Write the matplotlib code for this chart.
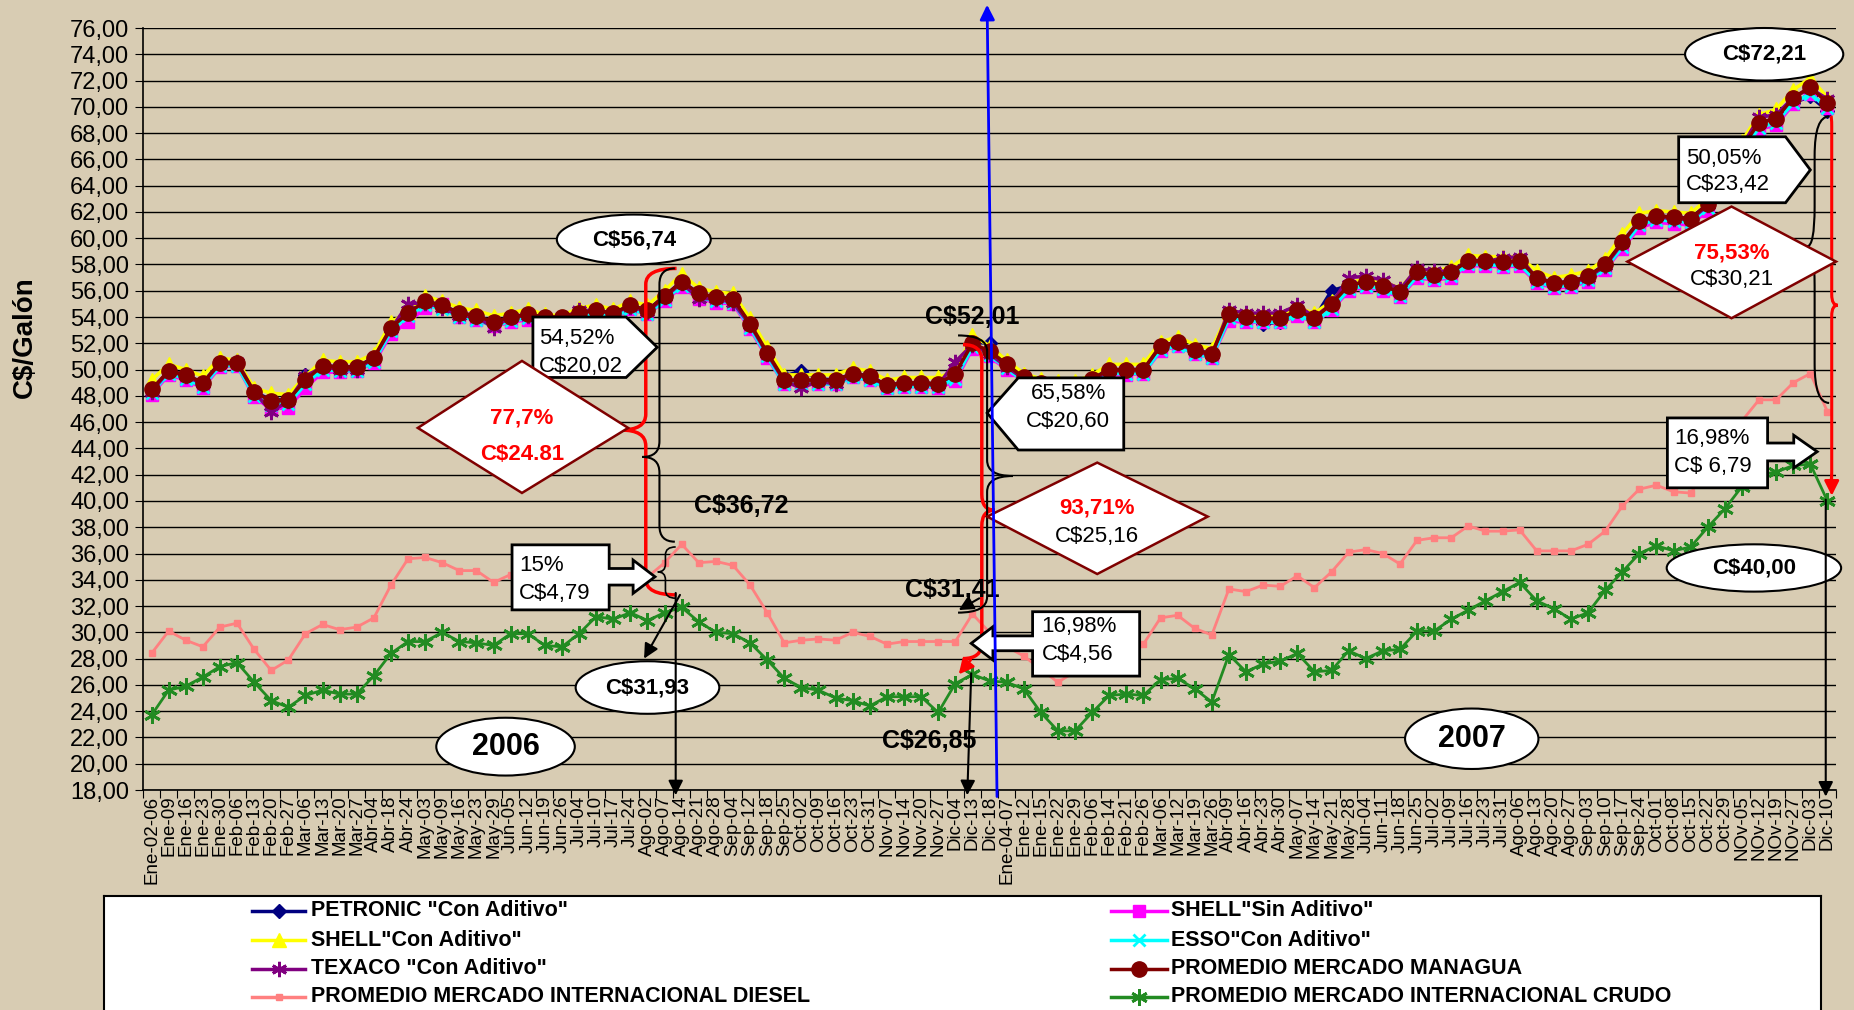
import numpy as np
import matplotlib.pyplot as plt
from matplotlib.patches import Ellipse, Polygon, PathPatch
from matplotlib.path import Path
from matplotlib.lines import Line2D

plt.rcParams['font.family'] = ['Liberation Sans', 'DejaVu Sans']
plt.rcParams['text.parse_math'] = False

# semanas (eje x)
fechas = ['Ene-02-06', 'Ene-09', 'Ene-16', 'Ene-23', 'Ene-30', 'Feb-06', 'Feb-13', 'Feb-20', 'Feb-27', 'Mar-06',
          'Mar-13', 'Mar-20', 'Mar-27', 'Abr-04', 'Abr-18', 'Abr-24', 'May-03', 'May-09', 'May-16', 'May-23',
          'May-29', 'Jun-05', 'Jun-12', 'Jun-19', 'Jun-26', 'Jul-04', 'Jul-10', 'Jul-17', 'Jul-24', 'Ago-02',
          'Ago-07', 'Ago-14', 'Ago-21', 'Ago-28', 'Sep-04', 'Sep-12', 'Sep-18', 'Sep-25', 'Oct-02', 'Oct-09',
          'Oct-16', 'Oct-23', 'Oct-31', 'Nov-07', 'Nov-14', 'Nov-20', 'Nov-27', 'Dic-04', 'Dic-13', 'Dic-18',
          'Ene-04-07', 'Ene-12', 'Ene-15', 'Ene-22', 'Ene-29', 'Feb-06', 'Feb-14', 'Feb-21', 'Feb-26', 'Mar-06',
          'Mar-12', 'Mar-19', 'Mar-26', 'Abr-09', 'Abr-16', 'Abr-23', 'Abr-30', 'May-07', 'May-14', 'May-21',
          'May-28', 'Jun-04', 'Jun-11', 'Jun-18', 'Jun-25', 'Jul-02', 'Jul-09', 'Jul-16', 'Jul-23', 'Jul-31',
          'Ago-06', 'Ago-13', 'Ago-20', 'Ago-27', 'Sep-03', 'Sep-10', 'Sep-17', 'Sep-24', 'Oct-01', 'Oct-08',
          'Oct-15', 'Oct-22', 'Oct-29', 'NOv-05', 'NOv-12', 'NOv-19', 'NOv-27', 'Dic-03', 'Dic-10']

petronic = [48.4, 49.9, 49.6, 49.0, 50.5, 50.6, 48.3, 47.7, 47.7, 49.6,
            50.3, 50.2, 50.2, 50.9, 53.1, 54.3, 55.2, 54.9, 54.3, 54.1,
            53.6, 54.0, 54.2, 54.0, 54.0, 54.3, 54.5, 54.3, 54.9, 54.5,
            55.6, 56.7, 55.8, 55.5, 55.4, 53.5, 51.4, 49.5, 49.9, 49.3,
            49.2, 49.7, 49.5, 48.8, 49.0, 49.0, 48.9, 49.6, 52.1, 52.0,
            50.5, 49.4, 49.0, 48.8, 48.8, 49.3, 50.0, 50.0, 50.0, 51.8,
            52.1, 51.5, 51.2, 54.2, 54.0, 53.5, 53.6, 54.6, 53.9, 56.0,
            56.4, 56.7, 56.4, 55.9, 57.4, 57.0, 57.2, 58.3, 58.0, 58.0,
            58.3, 57.0, 56.6, 56.7, 57.1, 58.0, 59.6, 61.3, 61.7, 61.6,
            61.5, 62.6, 64.6, 66.9, 68.8, 69.1, 70.3, 70.8, 69.7]

shell_sin = [48.1, 49.6, 49.2, 48.6, 50.2, 50.3, 47.9, 47.0, 47.1, 48.6,
             49.8, 49.8, 49.9, 50.5, 52.7, 53.6, 54.7, 55.0, 54.0, 53.8,
             53.3, 53.6, 53.8, 53.7, 53.7, 54.0, 54.2, 53.9, 54.6, 54.2,
             55.2, 56.3, 55.4, 55.1, 55.0, 53.1, 50.9, 48.9, 48.9, 48.9,
             48.9, 49.4, 49.2, 48.6, 48.7, 48.7, 48.6, 49.1, 51.6, 51.0,
             50.0, 49.1, 48.7, 48.5, 48.5, 49.0, 49.6, 49.6, 49.7, 51.4,
             51.8, 51.2, 50.9, 53.7, 53.6, 53.6, 53.6, 54.1, 53.6, 54.5,
             56.0, 56.3, 56.0, 55.5, 57.0, 56.8, 57.0, 57.9, 57.9, 57.8,
             57.9, 56.6, 56.2, 56.3, 56.7, 57.6, 59.2, 60.8, 61.2, 61.1,
             61.0, 62.1, 64.1, 66.4, 68.3, 68.6, 70.2, 71.0, 69.9]

shell_con = [49.2, 50.4, 50.0, 49.5, 50.9, 50.7, 48.6, 48.2, 48.1, 49.5,
             50.7, 50.6, 50.6, 51.2, 53.6, 54.4, 55.6, 55.2, 54.7, 54.5,
             54.1, 54.3, 54.6, 54.2, 54.1, 54.7, 54.9, 54.6, 55.2, 54.9,
             56.0, 57.3, 56.2, 55.9, 55.8, 53.9, 51.7, 49.6, 49.6, 49.6,
             49.6, 50.1, 49.9, 49.2, 49.4, 49.4, 49.4, 49.9, 52.6, 51.8,
             50.7, 49.7, 49.3, 49.1, 49.1, 49.6, 50.4, 50.4, 50.4, 52.1,
             52.5, 51.9, 51.6, 54.4, 54.2, 54.2, 54.1, 54.7, 54.3, 55.2,
             56.6, 56.9, 56.7, 56.2, 57.6, 57.5, 57.8, 58.7, 58.6, 58.6,
             58.6, 57.5, 57.0, 57.2, 57.5, 58.4, 60.3, 61.9, 62.1, 62.0,
             61.9, 63.0, 65.0, 67.4, 69.4, 69.8, 71.3, 72.2, 70.7]

esso = [48.2, 49.7, 49.3, 48.7, 50.3, 50.3, 48.0, 47.3, 47.4, 48.9,
        50.0, 49.9, 49.9, 50.6, 52.9, 54.1, 54.9, 54.6, 54.0, 53.8,
        53.3, 53.7, 53.9, 53.7, 53.7, 54.0, 54.2, 54.0, 54.6, 54.2,
        55.3, 56.4, 55.5, 55.2, 55.1, 53.2, 51.0, 48.9, 48.9, 48.9,
        48.9, 49.4, 49.2, 48.6, 48.7, 48.7, 48.7, 49.3, 51.7, 51.1,
        50.1, 49.1, 48.7, 48.5, 48.5, 49.0, 49.7, 49.7, 49.7, 51.5,
        51.8, 51.2, 50.9, 53.9, 53.7, 53.6, 53.6, 54.2, 53.6, 54.6,
        56.1, 56.4, 56.1, 55.6, 57.1, 56.9, 57.1, 58.0, 58.0, 57.9,
        58.0, 56.7, 56.3, 56.4, 56.8, 57.7, 59.3, 61.0, 61.4, 61.3,
        61.2, 62.3, 64.3, 66.6, 68.4, 68.8, 70.3, 71.0, 69.9]

texaco = [48.3, 49.9, 49.5, 48.9, 50.5, 50.6, 48.3, 46.8, 47.6, 49.5,
          50.2, 50.0, 50.0, 50.9, 53.1, 55.0, 55.1, 54.7, 54.1, 54.0,
          53.2, 54.0, 54.1, 53.9, 53.9, 54.5, 54.5, 54.3, 54.8, 54.4,
          55.5, 56.6, 55.4, 55.4, 55.1, 53.4, 51.2, 49.1, 48.6, 49.1,
          48.9, 49.6, 49.4, 48.8, 48.9, 48.9, 48.8, 50.6, 51.9, 51.2,
          50.2, 49.3, 48.9, 48.7, 48.7, 49.2, 49.9, 50.0, 50.0, 51.8,
          52.0, 51.4, 51.1, 54.5, 54.3, 54.3, 54.3, 54.9, 54.0, 55.0,
          57.0, 57.1, 56.8, 56.1, 57.7, 57.5, 57.5, 58.3, 58.2, 58.5,
          58.6, 56.9, 56.6, 56.6, 57.0, 57.9, 59.6, 61.3, 61.6, 61.5,
          61.4, 62.5, 64.5, 67.0, 69.2, 69.4, 70.7, 71.4, 70.6]

managua = [48.5, 49.9, 49.6, 49.0, 50.5, 50.5, 48.3, 47.6, 47.7, 49.2,
           50.3, 50.2, 50.2, 50.9, 53.2, 54.3, 55.2, 54.9, 54.3, 54.1,
           53.6, 54.0, 54.2, 54.0, 54.0, 54.3, 54.5, 54.3, 54.9, 54.5,
           55.6, 56.7, 55.8, 55.5, 55.4, 53.5, 51.3, 49.2, 49.2, 49.2,
           49.2, 49.7, 49.5, 48.8, 49.0, 49.0, 48.9, 49.7, 52.0, 51.4,
           50.4, 49.4, 49.0, 48.8, 48.8, 49.3, 50.0, 50.0, 50.0, 51.8,
           52.1, 51.5, 51.2, 54.2, 54.0, 53.9, 53.9, 54.5, 53.9, 55.0,
           56.4, 56.7, 56.4, 55.9, 57.4, 57.2, 57.4, 58.3, 58.3, 58.2,
           58.3, 57.0, 56.6, 56.7, 57.1, 58.0, 59.7, 61.3, 61.7, 61.6,
           61.5, 62.6, 64.6, 66.9, 68.8, 69.1, 70.7, 71.5, 70.3]

diesel = [28.4, 30.1, 29.4, 28.9, 30.4, 30.7, 28.7, 27.1, 27.9, 29.9,
          30.6, 30.2, 30.4, 31.1, 33.6, 35.6, 35.7, 35.3, 34.7, 34.7,
          33.8, 34.4, 34.6, 34.5, 34.3, 34.0, 34.5, 34.2, 34.0, 34.2,
          35.3, 36.7, 35.3, 35.4, 35.1, 33.6, 31.5, 29.2, 29.4, 29.5,
          29.4, 30.0, 29.7, 29.1, 29.3, 29.3, 29.3, 29.3, 31.4, 30.0,
          28.9, 28.2, 27.2, 26.2, 27.0, 28.2, 28.9, 28.9, 29.1, 31.1,
          31.3, 30.3, 29.8, 33.3, 33.1, 33.6, 33.5, 34.3, 33.4, 34.6,
          36.1, 36.3, 36.0, 35.2, 37.0, 37.2, 37.2, 38.1, 37.7, 37.7,
          37.8, 36.2, 36.2, 36.2, 36.7, 37.7, 39.6, 40.9, 41.2, 40.7,
          40.6, 42.4, 44.3, 46.1, 47.7, 47.7, 49.0, 49.7, 46.8]

crudo = [23.7, 25.6, 25.9, 26.6, 27.4, 27.7, 26.2, 24.8, 24.3, 25.2,
         25.6, 25.3, 25.3, 26.7, 28.4, 29.3, 29.3, 30.0, 29.3, 29.2,
         29.0, 29.9, 29.9, 29.0, 28.9, 29.9, 31.2, 31.0, 31.5, 30.9,
         31.5, 31.9, 30.8, 30.0, 29.9, 29.2, 27.9, 26.5, 25.8, 25.6,
         25.0, 24.8, 24.4, 25.1, 25.1, 25.1, 23.9, 26.1, 26.8, 26.3,
         26.2, 25.7, 23.9, 22.5, 22.5, 23.9, 25.2, 25.3, 25.2, 26.4,
         26.5, 25.7, 24.7, 28.3, 27.0, 27.6, 27.8, 28.4, 27.0, 27.1,
         28.6, 28.0, 28.6, 28.7, 30.1, 30.1, 31.0, 31.7, 32.4, 33.1,
         33.8, 32.4, 31.8, 31.0, 31.5, 33.2, 34.6, 36.0, 36.6, 36.2,
         36.5, 38.0, 39.4, 41.1, 42.0, 42.2, 42.7, 42.8, 40.0]

BG = '#d8ccb3'
fig = plt.figure(figsize=(18.54, 10.10), dpi=100, facecolor=BG)
ax = fig.add_axes([143 / 1854, 1 - 790 / 1010, 1693 / 1854, 762 / 1010])
ax.set_facecolor(BG)
x = np.arange(len(fechas))

asterisco = (6, 2, 0)
series = [
    (petronic, 'PETRONIC "Con Aditivo"', dict(color='#000080', marker='D', ms=7)),
    (shell_sin, 'SHELL"Sin Aditivo"', dict(color='#ff00ff', marker='s', ms=9)),
    (shell_con, 'SHELL"Con Aditivo"', dict(color='#ffff00', marker='^', ms=10)),
    (esso, 'ESSO"Con Aditivo"', dict(color='#00ffff', marker='x', ms=9, mew=2)),
    (texaco, 'TEXACO "Con Aditivo"', dict(color='#800080', marker=asterisco, ms=11, mew=2)),
    (managua, 'PROMEDIO MERCADO MANAGUA', dict(color='#800000', marker='o', ms=11)),
    (diesel, 'PROMEDIO MERCADO INTERNACIONAL DIESEL', dict(color='#ff8080', marker='s', ms=5, lw=2)),
    (crudo, 'PROMEDIO MERCADO INTERNACIONAL CRUDO', dict(color='#228b22', marker=asterisco, ms=12, mew=2, lw=2)),
]
for vals, lab, st in series:
    st = dict(st)
    lw = st.pop('lw', 2.5)
    ax.plot(x, vals, lw=lw, label=lab, zorder=3, **st)

ax.set_xlim(-0.5, len(x) - 0.5)
ax.set_ylim(18, 76)
yt = np.arange(18, 77, 2)
ax.set_yticks(yt, [f'{v:.2f}'.replace('.', ',') for v in yt], fontsize=17)
ax.yaxis.grid(True, color='black', lw=1)
ax.set_axisbelow(True)
for s in ['top', 'right']:
    ax.spines[s].set_visible(False)
ax.spines['left'].set_linewidth(1.2)
ax.spines['bottom'].set_linewidth(1.2)
ax.set_xticks(np.arange(-0.5, len(x), 1), [])
ax.set_xticks(x, fechas, minor=True, rotation=90, fontsize=13.5)
ax.tick_params(axis='x', which='minor', length=0, pad=4)
ax.tick_params(axis='x', which='major', length=6)
ax.tick_params(axis='y', length=6, pad=4)
ax.set_ylabel('C$/Galón', fontsize=20, fontweight='bold')
ax.yaxis.set_label_coords(-0.062, 0.594)

Z = 10


def texto(xd, yd, s, size=15, weight='normal', color='black', ha='center'):
    ax.text(xd, yd, s, ha=ha, va='center', fontsize=size, fontweight=weight,
            color=color, zorder=Z + 2, clip_on=False)


def elipse(xc, yc, w, h, s, size=15):
    ax.add_patch(Ellipse((xc, yc), w, h, fc='white', ec='black', lw=1.5, zorder=Z, clip_on=False))
    texto(xc, yc, s, size=size, weight='bold')


def rombo(xl, xc, xr, yb, ym, yt_, lineas):
    ax.add_patch(Polygon([(xl, ym), (xc, yt_), (xr, ym), (xc, yb)], closed=True,
                         fc='white', ec='#7f0000', lw=1.8, zorder=Z, clip_on=False))
    for yy, s, c in lineas:
        texto(xc, yy, s, size=16, weight='bold' if c != 'black' else 'normal', color=c)


def pentagono(x0, x1, xt, y0, y1, yt_):
    ax.add_patch(Polygon([(x0, y0), (x1, y0), (xt, yt_), (x1, y1), (x0, y1)], closed=True,
                         fc='white', ec='black', lw=2, zorder=Z, clip_on=False))


def flecha_bloque(near, far, by0, by1, sy0, sy1, hx, hy0, hy1, tx_, ty_):
    pts = [(far, by0), (near, by0), (near, sy0), (hx, sy0), (hx, hy0), (tx_, ty_),
           (hx, hy1), (hx, sy1), (near, sy1), (near, by1), (far, by1)]
    ax.add_patch(Polygon(pts, closed=True, fc='white', ec='black', lw=2, zorder=Z, clip_on=False))


def llave(xv, y0, y1, ym, wt, we, color, lw, r=1.2):
    verts = [(xv + we, y0), (xv, y0), (xv, y0 + r), (xv, ym - r), (xv, ym), (xv + wt, ym),
             (xv, ym), (xv, ym + r), (xv, y1 - r), (xv, y1), (xv + we, y1)]
    codes = [Path.MOVETO, Path.CURVE3, Path.CURVE3, Path.LINETO, Path.CURVE3, Path.CURVE3,
             Path.CURVE3, Path.CURVE3, Path.LINETO, Path.CURVE3, Path.CURVE3]
    ax.add_patch(PathPatch(Path(verts, codes), fc='none', ec=color, lw=lw, zorder=Z - 1, clip_on=False))


def flecha(x0, y0, x1, y1, color='black', lw=1.5, z=Z + 1):
    ax.annotate('', xy=(x1, y1), xytext=(x0, y0), annotation_clip=False, zorder=z,
                arrowprops=dict(arrowstyle='-|>', color=color, lw=lw, mutation_scale=22,
                                shrinkA=0, shrinkB=0))


# llaves y flechas 2006
llave(28.9, 32.85, 57.7, 45.4, -1.45, 1.8, 'red', 2.5)
llave(29.7, 36.9, 57.7, 43.35, -1.0, 0.9, 'black', 1.5)
llave(30.05, 32.6, 36.5, 34.6, -0.45, 0.6, 'black', 1.2, r=0.6)
flecha(30.65, 33.0, 30.65, 17.6)
flecha(30.9, 32.85, 28.8, 28.0)

# llaves y flechas dic-2006
llave(48.55, 28.0, 51.9, 39.3, 0.75, -1.1, 'red', 2.5)
flecha(47.9, 27.9, 47.2, 26.8, color='red', lw=2)
llave(48.86, 31.5, 52.6, 41.9, 1.5, -1.7, 'black', 1.5)
flecha(47.93, 26.88, 47.7, 17.6)
flecha(48.4, 32.59, 47.2, 31.7)

# llaves y flechas dic-2007
llave(97.25, 47.46, 69.27, 59.37, -0.45, 0.85, 'black', 1.5, r=3)
llave(98.25, 41.5, 69.3, 54.9, 0.35, -0.05, 'red', 2.2, r=0.8)
flecha(98.25, 42.0, 98.25, 40.4, color='red', lw=2)
flecha(97.9, 40.1, 97.9, 17.5)

# cuadros con texto
pentagono(22.3, 27.75, 29.57, 49.4, 54.0, 51.7)
texto(22.66, 52.39, '54,52%', size=16, ha='left')
texto(22.66, 50.23, 'C$20,02', size=16, ha='left')

flecha_bloque(26.76, 21.08, 31.71, 36.66, 33.6, 34.86, 28.16, 32.97, 35.5, 29.44, 34.23)
texto(21.5, 35.05, '15%', size=16, ha='left')
texto(21.5, 32.97, 'C$4,79', size=16, ha='left')

pentagono(56.85, 50.68, 48.86, 43.88, 49.37, 46.7)
texto(53.6, 48.2, '65,58%', size=16)
texto(53.6, 46.04, 'C$20,60', size=16)

flecha_bloque(51.52, 57.78, 26.67, 31.57, 28.6, 29.73, 49.2, 27.89, 30.43, 47.93, 29.16)
texto(52.05, 30.43, '16,98%', size=16, ha='left')
texto(52.05, 28.35, 'C$4,56', size=16, ha='left')

pentagono(89.3, 95.55, 97.0, 62.7, 67.72, 65.2)
texto(89.72, 66.1, '50,05%', size=16, ha='left')
texto(89.72, 64.07, 'C$23,42', size=16, ha='left')

flecha_bloque(94.5, 88.64, 41.0, 46.32, 43.05, 44.41, 96.03, 42.51, 45.0, 97.4, 43.75)
texto(89.05, 44.77, '16,98%', size=16, ha='left')
texto(89.05, 42.6, 'C$ 6,79', size=16, ha='left')

# rombos
rombo(15.57, 21.66, 27.87, 40.61, 45.56, 50.66,
      [(46.33, '77,7%', 'red'), (43.5, 'C$24.81', 'red')])
rombo(48.86, 55.3, 61.76, 34.44, 38.81, 42.92,
      [(39.44, '93,71%', 'red'), (37.28, 'C$25,16', 'black')])
rombo(86.3, 92.39, 98.5, 53.91, 58.22, 62.41,
      [(58.89, '75,53%', 'red'), (56.83, 'C$30,21', 'black')])

# elipses
elipse(28.2, 59.9, 9.0, 3.8, 'C$56,74', size=16)
elipse(29.0, 25.8, 8.4, 4.0, 'C$31,93', size=16)
elipse(20.7, 21.3, 8.1, 4.4, '2006', size=22)
elipse(77.2, 21.9, 7.8, 4.6, '2007', size=22)
elipse(94.3, 74.0, 9.25, 4.0, 'C$72,21', size=16)
elipse(93.7, 34.9, 10.2, 3.6, 'C$40,00', size=16)

# textos sueltos
texto(34.5, 39.6, 'C$36,72', size=18, weight='bold')
texto(48.0, 54.0, 'C$52,01', size=18, weight='bold')
texto(46.8, 33.2, 'C$31,41', size=18, weight='bold')
texto(45.5, 21.7, 'C$26,85', size=18, weight='bold')

# flecha azul
flecha(49.44, 17.5, 48.86, 77.77, color='#0000ff', lw=2, z=Z + 5)

# leyenda
lax = fig.add_axes([104 / 1854, 1 - 1030 / 1010, 1717 / 1854, 134 / 1010])
lax.set_xlim(0, 1717)
lax.set_ylim(134, 0)
lax.set_facecolor('white')
lax.set_xticks([])
lax.set_yticks([])
for s in lax.spines.values():
    s.set_linewidth(1.5)
filas = [14.5, 44, 72.5, 101]
orden = [(0, 0), (1, 0), (0, 1), (1, 1), (0, 2), (1, 2), (0, 3), (1, 3)]
col_x = [(148, 201, 207), (1007, 1063, 1067)]
for (vals, lab, st), (c, r) in zip(series, orden):
    st = dict(st)
    st.pop('lw', None)
    x0, x1, xt = col_x[c]
    yy = filas[r]
    lax.add_line(Line2D([x0, x1], [yy, yy], lw=2.5, color=st['color']))
    lax.plot([(x0 + x1) / 2], [yy], **st)
    lax.text(xt, yy, lab, fontsize=15.5, fontweight='bold', va='center', ha='left')

fig.savefig('out.png', dpi=100, facecolor=BG)
